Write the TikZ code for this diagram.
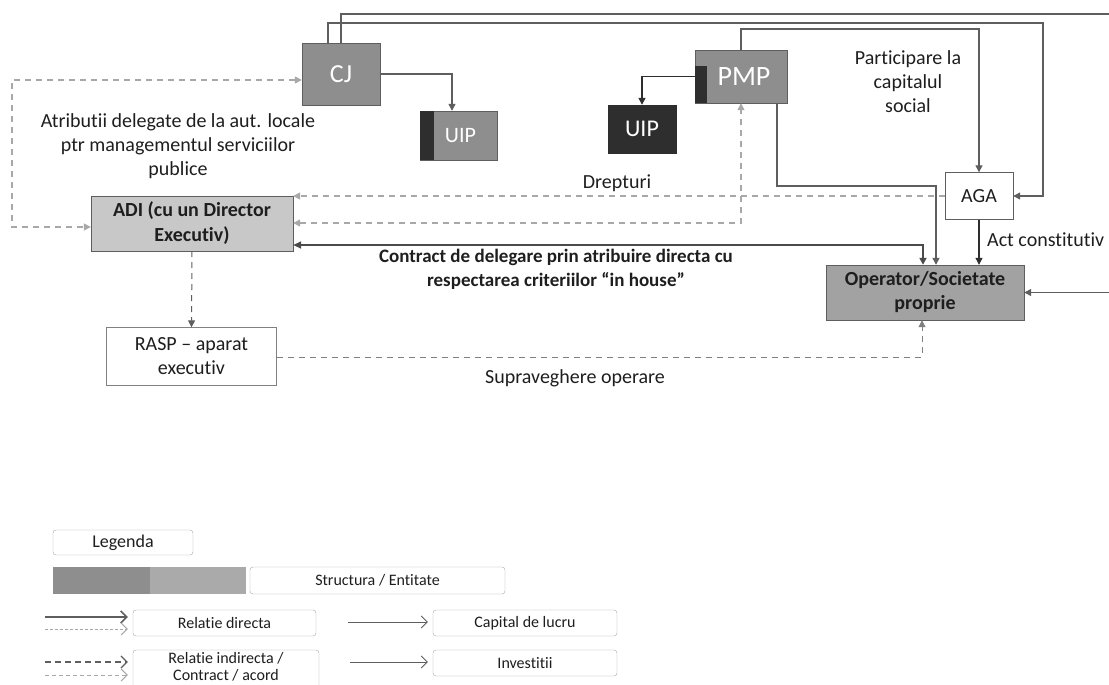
\documentclass[tikz,border=0pt]{standalone}
\usepackage{fontspec}
\setmainfont[Ligatures={NoCommon}]{Carlito}
\usetikzlibrary{arrows.meta}
\definecolor{entgray}{HTML}{8E8E8E}
\definecolor{opgray}{HTML}{A2A2A2}
\definecolor{adigray}{HTML}{C8C8C8}
\definecolor{darkstrip}{HTML}{2E2E2E}
\definecolor{linegray}{HTML}{5E5E5E}
\definecolor{dashgray}{HTML}{A8A8A8}
\definecolor{txt}{HTML}{1E1E1E}
\begin{document}
\begin{tikzpicture}[x=1pt,y=-1pt,
  every node/.style={font=\fontsize{20}{24}\selectfont, text=txt},
  ent/.style={draw=linegray, fill=entgray, inner sep=0pt, text=white},
  wbox/.style={draw=linegray, fill=white, inner sep=0pt, align=center},
  lbox/.style={draw=gray!70, fill=white, rounded corners=3pt, inner sep=0pt, align=center, font=\fontsize{16}{18}\selectfont},
  conn/.style={draw=linegray, line width=1.3pt, -{Triangle[length=7pt,width=7pt]}},
  dconn/.style={draw=dashgray, line width=1.3pt, dash pattern=on 6pt off 5pt, -{Triangle[length=7pt,width=7pt]}},
  lbl/.style={align=center, inner sep=0pt}
]
\useasboundingbox (0,0) rectangle (1109,685);
\clip (0,0) rectangle (1109,685);

% ---------- entities ----------
\node[ent, minimum width=78pt, minimum height=62pt, font=\fontsize{26}{28}\selectfont] (cj) at (341,74) {CJ};
\node[ent, minimum width=77pt, minimum height=49pt, font=\fontsize{22}{24}\selectfont] (uipa) at (458.5,135.5) {\hspace*{4pt}UIP};
\fill[darkstrip] (uipa.north west) rectangle ([xshift=14pt]uipa.south west);
\node[ent, minimum width=92pt, minimum height=53pt, font=\fontsize{28}{30}\selectfont] (pmp) at (741,76.5) {\hspace*{6pt}PMP};
\fill[darkstrip] ([yshift=-16pt]pmp.north west) rectangle ([xshift=12pt]pmp.south west);
\node[draw=darkstrip, fill=darkstrip, inner sep=0pt, text=white, minimum width=68pt, minimum height=48pt, font=\fontsize{24}{26}\selectfont] (uipb) at (642,129) {UIP};
\node[wbox, minimum width=68pt, minimum height=47pt] (aga) at (979,196) {AGA};
\node[draw=linegray, fill=opgray, inner sep=0pt, align=center, minimum width=198pt, minimum height=55pt, font=\fontsize{20}{24}\selectfont\bfseries] (op) at (925,292.5) {Operator/Societate\\proprie};
\node[draw=linegray, fill=adigray, inner sep=0pt, align=center, minimum width=202pt, minimum height=55pt, font=\fontsize{20}{25}\selectfont\bfseries] (adi) at (192,223.5) {ADI (cu un Director\\Executiv)};
\node[wbox, draw=gray, minimum width=170pt, minimum height=58pt] (rasp) at (191.5,356.5) {RASP -- aparat\\executiv};

% ---------- routing points ----------
\coordinate (r1) at (1043,23);
\coordinate (r2) at (1135,14);
\coordinate (r3) at (979,29);
\coordinate (r4) at (936,186);
\coordinate (r5) at (923,245);
\coordinate (r7) at (741,223);
\coordinate (l1) at (12,80);
\coordinate (l2) at (12,227);
\coordinate (r13) at (922,357);

% ---------- solid connectors ----------
\draw[conn] ([xshift=-13pt]cj.north) |- (r1) |- (aga.east);
\draw[conn] (cj.north) |- (r2) |- (op.east);
\draw[conn] (pmp.north) |- (r3) -- (aga.north);
\draw[conn] ([xshift=36pt]pmp.south) |- (r4) -- (r4 |- op.north);
\draw[conn, draw=linegray!80!black, line width=1.8pt, {Triangle[length=8pt,width=7pt]}-{Triangle[length=7pt,width=7pt]}] (adi.east |- r5) -- (r5) -- (r5 |- op.north);
\draw[conn] (cj.east) -| ([xshift=-6.5pt]uipa.north);
\draw[conn, draw=darkstrip] (pmp.west) -| (uipb.north);
\draw[conn, draw=darkstrip, line width=1.1pt] (aga.south) -- (aga.south |- op.north);

% ---------- dashed connectors ----------
\draw[dconn] (aga.west) -- (adi.east |- aga.west);
\draw[dconn, {Triangle[length=7pt,width=7pt]}-{Triangle[length=7pt,width=7pt]}] (adi.east |- r7) -- (r7) -- (r7 |- pmp.south);
\draw[dconn, {Triangle[length=7pt,width=7pt]}-{Triangle[length=7pt,width=7pt]}] (cj.west |- l1) -- (l1) -- (l2) -- (adi.west |- l2);
\draw[dconn, draw=linegray, line width=1pt] (adi.south) -- (rasp.north);
\draw[dconn, draw=gray, line width=1pt] (rasp.east |- r13) -- (r13) -- (r13 |- op.south);

% ---------- labels ----------
\node[lbl] (tatr) at (178,146) {Atributii delegate de la aut. locale\\ptr managementul serviciilor\\publice};
\node[lbl] (tdr) at (617,183) {Drepturi};
\node[lbl, font=\fontsize{19}{24}\selectfont\bfseries] (tcon) at (556,269) {Contract de delegare prin atribuire directa cu\\respectarea criteriilor ``in house''};
\node[lbl] (tpart) at (908,82) {Participare la\\capitalul\\social};
\node[lbl, anchor=west] (tact) at (987,240) {Act constitutiv};
\node[lbl] (tsup) at (575,378) {Supraveghere operare};

% ---------- legend ----------
\node[lbox, minimum width=140pt, minimum height=25pt, font=\fontsize{18}{20}\selectfont] (leg) at (123,542.5) {Legenda};
\fill[entgray] (53,567) rectangle (150,594);
\fill[adigray!85!black] (150,567) rectangle (246,594);
\node[lbox, minimum width=255pt, minimum height=27pt] (lstr) at (377.5,580.5) {Structura / Entitate};
\node[lbox, minimum width=183pt, minimum height=26pt] (lrd) at (224.5,623) {Relatie directa};
\node[lbox, minimum width=184pt, minimum height=26pt] (lcap) at (525,623) {Capital de lucru};
\node[lbox, minimum width=186pt, minimum height=44pt] (lri) at (226,672) {};
\node[lbl, font=\fontsize{16}{17}\selectfont] (tri) at (226,667) {Relatie indirecta /\\Contract / acord};
\node[lbox, minimum width=184pt, minimum height=26pt] (linv) at (525,663) {Investitii};

\coordinate (la1) at (45,617);
\coordinate (la2) at (45,629);
\coordinate (la3) at (45,662);
\coordinate (la4) at (45,675);
\coordinate (la5) at (348,622);
\coordinate (la6) at (350,662);
\draw[draw=linegray, line width=1.5pt, -{Straight Barb[length=6pt,width=12pt]}] (la1) -- ([xshift=-5pt]lrd.west |- la1);
\draw[draw=dashgray, line width=1pt, dash pattern=on 3pt off 2pt, -{Straight Barb[length=6pt,width=12pt]}] (la2) -- ([xshift=-5pt]lrd.west |- la2);
\draw[draw=linegray, line width=1.2pt, dash pattern=on 6pt off 4pt, -{Straight Barb[length=6pt,width=12pt]}] (la3) -- ([xshift=-5pt]lri.west |- la3);
\draw[draw=dashgray, line width=1pt, dash pattern=on 4pt off 3pt, -{Straight Barb[length=6pt,width=12pt]}] (la4) -- ([xshift=-5pt]lri.west |- la4);
\draw[draw=linegray, line width=0.8pt, -{Straight Barb[length=6pt,width=12pt]}] (la5) -- ([xshift=-5pt]lcap.west |- la5);
\draw[draw=linegray, line width=0.8pt, -{Straight Barb[length=6pt,width=12pt]}] (la6) -- ([xshift=-5pt]linv.west |- la6);
\end{tikzpicture}
\end{document}
